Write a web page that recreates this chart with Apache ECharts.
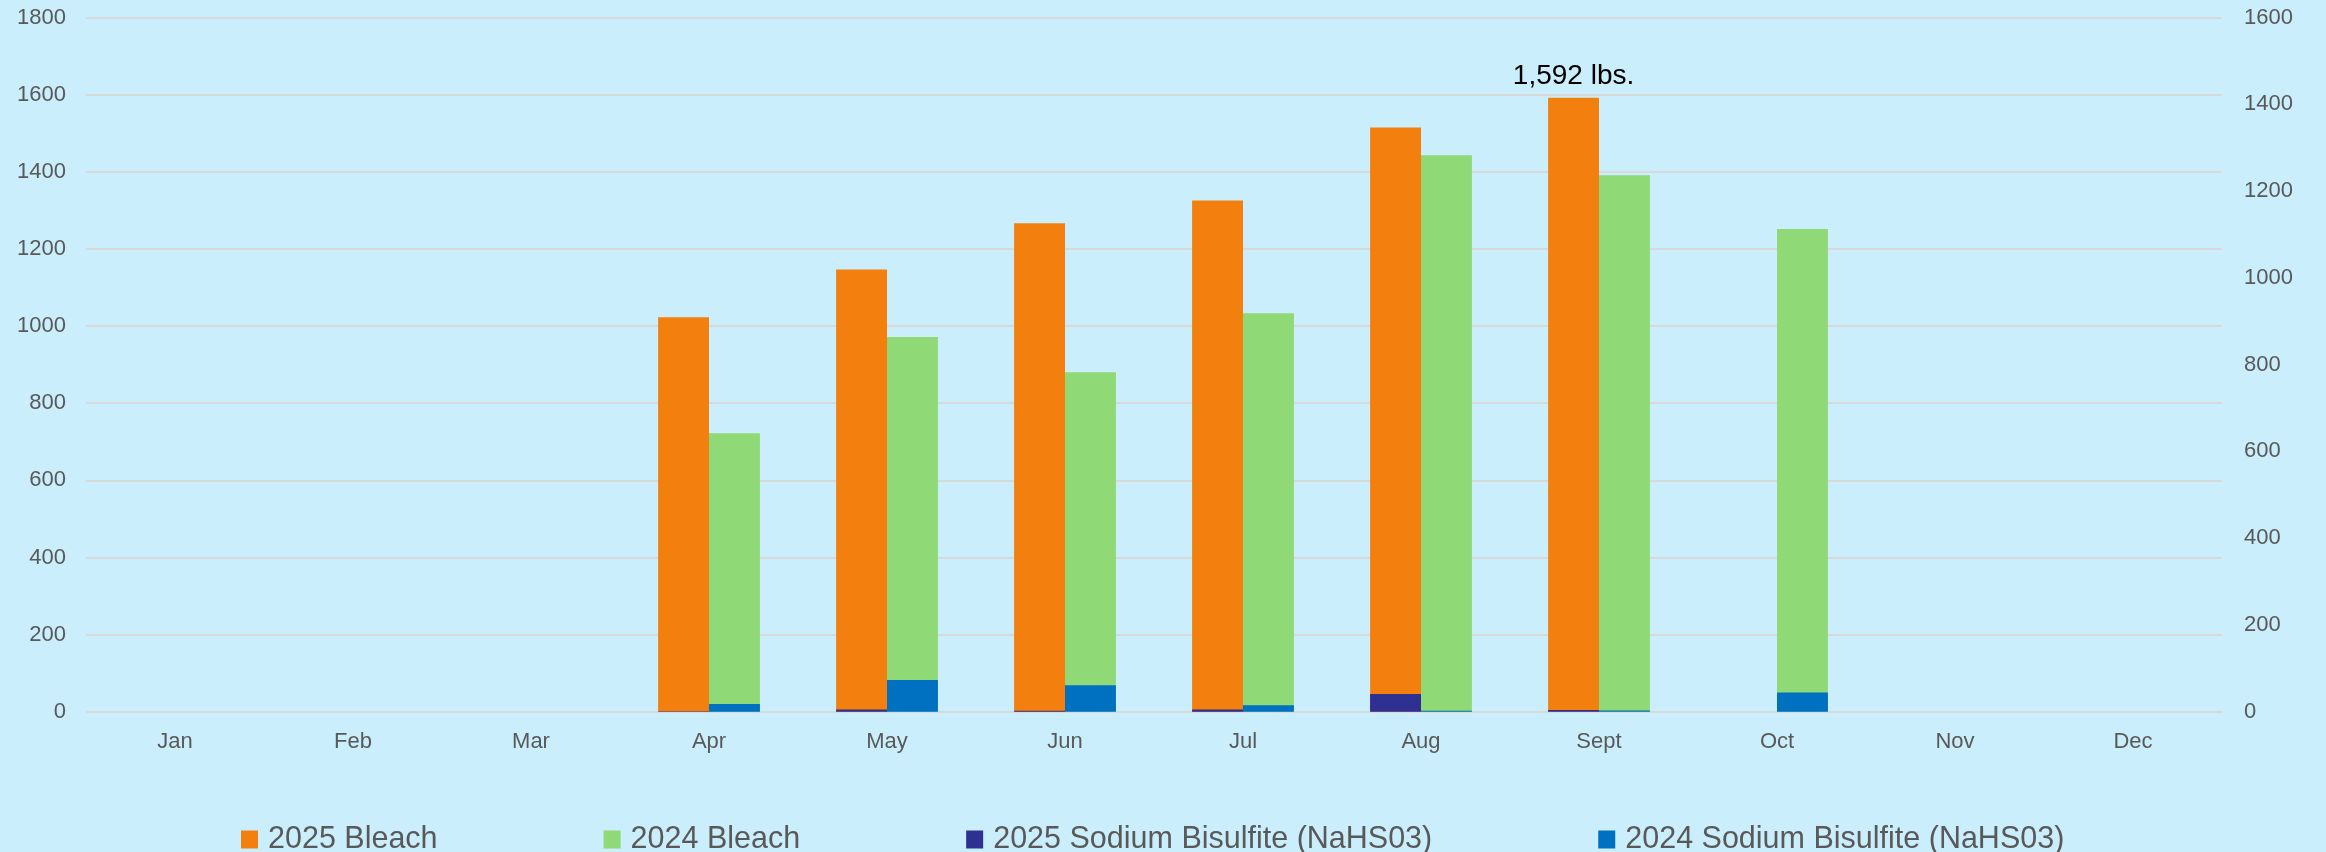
<!DOCTYPE html>
<html>
<head>
<meta charset="utf-8">
<script src="https://cdn.jsdelivr.net/npm/echarts@6/dist/echarts.min.js"></script>
<style>
html,body{margin:0;padding:0;background:#CAEEFB;}
#chart{width:2326px;height:852px;}
</style>
</head>
<body>
<div id="chart"></div>
<script>
const months = ['Jan','Feb','Mar','Apr','May','Jun','Jul','Aug','Sept','Oct','Nov','Dec'];
const bleach2025 = [null,null,null,1023,1147,1267,1326,1515,1592,null,null,null];
const bleach2024 = [null,null,null,722,972,880,1033,1443,1391,1252,null,null];
const bisulfite2025 = [null,null,null,1,5,2,5,41,4,null,null,null];
const bisulfite2024 = [null,null,null,18,73,61,15,2,3,44,null,null];
const leftTicks = {min:0,max:1800,interval:200};
const rightTicks = {min:0,max:1600,interval:200};
const labelIndex = 8;
const seriesNames = ['2025 Bleach','2024 Bleach','2025 Sodium Bisulfite (NaHS03)','2024 Sodium Bisulfite (NaHS03)'];

const FONT = '"Liberation Sans", Arial, sans-serif';
const TXT = '#595959';
const BW = '28.6%';

const chart = echarts.init(document.getElementById('chart'), null, {renderer:'canvas'});
chart.setOption({
  backgroundColor:'#CAEEFB',
  animation:false,
  textStyle:{fontFamily:FONT},
  grid:{left:86,right:104,top:17.6,bottom:140.3,containLabel:false},
  legend:{
    data:seriesNames,
    left:236, top:819,
    itemWidth:17, itemHeight:18, itemGap:166,
    icon:'rect',
    textStyle:{fontSize:30.5,color:TXT,fontFamily:FONT,padding:[0,0,0,5]}
  },
  xAxis:[
    {type:'category',data:months,
     axisLine:{show:false},axisTick:{show:false},
     axisLabel:{color:TXT,fontSize:22,margin:19,fontFamily:FONT},
     splitLine:{show:false}},
    {type:'category',data:months,show:false}
  ],
  yAxis:[
    {type:'value',min:leftTicks.min,max:leftTicks.max,interval:leftTicks.interval,
     axisLine:{show:false},axisTick:{show:false},
     axisLabel:{color:TXT,fontSize:22,margin:20,fontFamily:FONT,formatter:v=>String(v)},
     splitLine:{lineStyle:{color:'#D9D9D9',width:2}}},
    {type:'value',min:rightTicks.min,max:rightTicks.max,interval:rightTicks.interval,position:'right',
     axisLine:{show:false},axisTick:{show:false},
     axisLabel:{color:TXT,fontSize:22,margin:22,fontFamily:FONT,formatter:v=>String(v)},
     splitLine:{show:false}}
  ],
  series:[
    {name:seriesNames[0],type:'bar',xAxisIndex:0,yAxisIndex:0,barWidth:BW,barGap:'0%',
     itemStyle:{color:'#F3800E'},
     data:bleach2025.map((v,i)=> i===labelIndex ? {value:v,label:{show:true,position:'top',distance:8,
       color:'#000',fontSize:28,fontFamily:FONT,
       formatter:p=>p.value.toLocaleString('en-US')+' lbs.'}} : v)},
    {name:seriesNames[1],type:'bar',xAxisIndex:0,yAxisIndex:0,barWidth:BW,barGap:'0%',
     itemStyle:{color:'#90D977'},data:bleach2024},
    {name:seriesNames[2],type:'bar',xAxisIndex:1,yAxisIndex:1,barWidth:BW,barGap:'0%',z:5,
     itemStyle:{color:'#2F3192'},data:bisulfite2025},
    {name:seriesNames[3],type:'bar',xAxisIndex:1,yAxisIndex:1,barWidth:BW,barGap:'0%',z:5,
     itemStyle:{color:'#0070C0'},data:bisulfite2024}
  ]
});
</script>
</body>
</html>
